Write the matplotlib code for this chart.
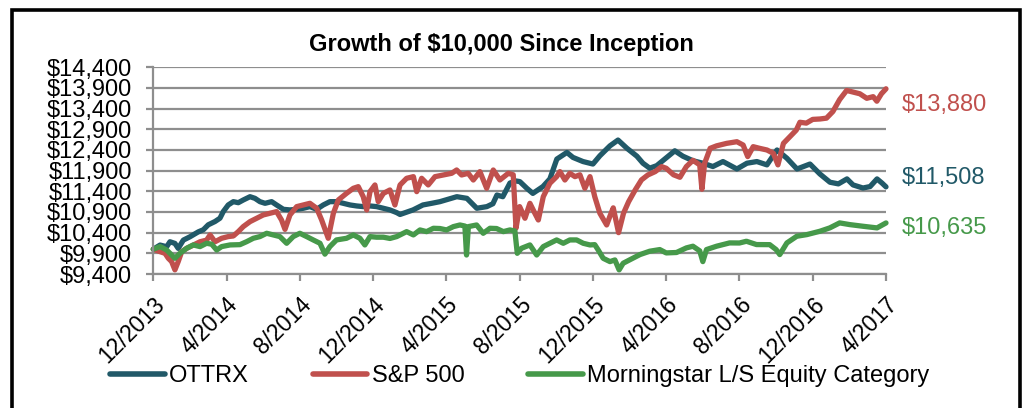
import matplotlib
matplotlib.use("Agg")
import matplotlib.pyplot as plt
from matplotlib.lines import Line2D
from matplotlib.patches import Rectangle
import matplotlib.transforms as mtransforms

plt.rcParams['font.family'] = ['Liberation Sans', 'DejaVu Sans']

# ---- data (x = months since 12/2013) ----
ottrx_m = [0, 0.37, 0.73, 0.91, 1.18, 1.36, 1.64, 2.0, 2.46, 2.73, 3.0, 3.37, 3.64, 3.82, 4.09, 4.37,
           4.64, 4.91, 5.28, 5.55, 5.82, 6.1, 6.46, 6.73, 7.1, 7.46, 7.83, 8.19, 8.55, 8.92, 9.28, 9.64,
           10.0, 10.37, 10.74, 11.1, 11.46, 11.83, 12.19, 12.56, 12.92, 13.29, 13.47, 14.18, 14.72, 15.2,
           15.65, 16.57, 17.12, 17.66, 18.21, 18.54, 18.76, 19.08, 19.47, 19.8, 20.01, 20.4, 20.72, 21.27,
           21.65, 22.03, 22.58, 22.91, 23.46, 24.0, 24.38, 24.93, 25.37, 25.86, 26.4, 26.73, 27.1, 27.48,
           28.03, 28.47, 28.91, 29.46, 30.0, 30.55, 31.1, 31.86, 32.41, 32.95, 33.5, 34.05, 34.59, 35.14,
           35.85, 36.39, 36.94, 37.4, 37.87, 38.2, 38.74, 39.13, 39.51, 39.78, 40]
ottrx_v = [10000, 10100, 10060, 10180, 10140, 10020, 10220, 10300, 10420, 10470, 10590, 10670, 10750,
           10910, 11070, 11150, 11125, 11190, 11270, 11230, 11150, 11110, 11150, 11070, 10965, 10950,
           10965, 10990, 11030, 10965, 11070, 11150, 11150, 11110, 11070, 11046, 11030, 11046, 11030,
           10990, 10950, 10884, 10840, 10950, 11070, 11110, 11150, 11270, 11230, 10990, 11030, 11100,
           11310, 11270, 11600, 11650, 11635, 11470, 11350, 11515, 11700, 12180, 12340, 12220, 12120,
           12060, 12260, 12500, 12640, 12440, 12250, 12080, 11960, 12020, 12220, 12380, 12250, 12140,
           12080, 12000, 12120, 11940, 12080, 12120, 12040, 12400, 12200, 11940, 12060, 11820, 11620,
           11580, 11700, 11555, 11480, 11515, 11700, 11600, 11508]

sp500_m = [0, 0.37, 0.64, 0.82, 1.0, 1.18, 1.36, 1.55, 1.82, 2.18, 2.55, 2.91, 3.1, 3.37, 3.73, 4.09,
           4.37, 4.64, 4.91, 5.28, 5.64, 6.0, 6.37, 6.73, 7.0, 7.19, 7.46, 7.83, 8.19, 8.55, 8.92, 9.19,
           9.55, 9.83, 10.1, 10.55, 10.92, 11.19, 11.46, 11.65, 11.83, 12.1, 12.28, 12.56, 12.92, 13.19,
           13.47, 13.83, 14.2, 14.38, 14.65, 15.01, 15.38, 15.83, 16.29, 16.56, 16.83, 17.19, 17.47,
           17.83, 18.2, 18.56, 18.92, 19.38, 19.65, 19.8, 20.0, 20.29, 20.56, 20.83, 21.02, 21.29, 21.65,
           22.02, 22.2, 22.47, 22.74, 23.02, 23.29, 23.56, 23.84, 24.1, 24.38, 24.75, 24.93, 25.11, 25.4,
           25.67, 25.95, 26.31, 26.65, 27.0, 27.4, 27.75, 28.0, 28.4, 28.75, 29.1, 29.46, 29.83, 29.95,
           30.1, 30.4, 30.75, 31.3, 31.86, 32.2, 32.45, 32.75, 33.1, 33.5, 33.85, 34.1, 34.4, 34.75,
           35.1, 35.3, 35.65, 36.0, 36.4, 36.75, 37.1, 37.47, 37.85, 38.2, 38.57, 38.95, 39.3, 39.5,
           39.75, 40]
sp500_v = [10000, 9940, 9900, 9780, 9700, 9500, 9700, 9940, 10020, 10100, 10180, 10220, 10345, 10180,
           10264, 10305, 10320, 10425, 10546, 10667, 10748, 10828, 10869, 10909, 10707, 10480, 10828,
           11030, 11070, 11110, 10990, 10707, 10264, 10869, 11190, 11352, 11473, 11513, 11271, 10949,
           11392, 11554, 11150, 11350, 11433, 11070, 11554, 11715, 11755, 11392, 11715, 11554, 11755,
           11795, 11836, 11916, 11795, 11836, 11674, 11876, 11473, 11916, 11674, 11836, 11800, 10506,
           11030, 10748, 11110, 10869, 10707, 11271, 11594, 11755, 11876, 11674, 11836, 11755, 11800,
           11473, 11755, 11271, 10869, 10586, 10800, 11000, 10400, 10870, 11150, 11434, 11676, 11796,
           11877, 11998, 11958, 11800, 11740, 11998, 12150, 12040, 11450, 12080, 12440, 12500, 12560,
           12600, 12520, 12240, 12480, 12440, 12400, 12320, 12040, 12560, 12720, 12880, 13070, 13050,
           13140, 13150, 13170, 13330, 13620, 13840, 13800, 13760, 13650, 13690, 13580, 13760, 13880]

morn_m = [0, 0.37, 0.73, 1.0, 1.18, 1.45, 1.82, 2.18, 2.55, 2.91, 3.19, 3.46, 3.73, 4.19, 4.73, 5.1,
          5.46, 5.82, 6.19, 6.55, 6.91, 7.28, 7.64, 8.0, 8.37, 8.73, 9.1, 9.37, 9.64, 10.0, 10.55, 10.92,
          11.28, 11.55, 11.83, 12.19, 12.56, 12.92, 13.29, 13.83, 14.2, 14.56, 14.92, 15.29, 15.65, 16.01,
          16.38, 16.74, 17.01, 17.1, 17.2, 17.65, 18.01, 18.38, 18.74, 19.11, 19.47, 19.74, 19.87, 20.1,
          20.56, 20.93, 21.29, 21.65, 22.02, 22.38, 22.74, 23.11, 23.47, 23.84, 24.1, 24.29, 24.56, 24.93,
          25.2, 25.43, 25.65, 26.02, 26.57, 27.1, 27.65, 28.0, 28.56, 29.1, 29.46, 29.83, 30.0, 30.2,
          30.75, 31.46, 32.0, 32.38, 32.93, 33.65, 34.0, 34.2, 34.59, 35.13, 35.68, 36.39, 36.93, 37.47,
          38.02, 38.74, 39.51, 40]
morn_v = [10000, 10063, 9980, 9860, 9780, 9900, 10022, 10103, 10063, 10143, 10120, 9980, 10063, 10103,
          10110, 10183, 10264, 10305, 10385, 10345, 10305, 10143, 10305, 10385, 10305, 10224, 10143, 9880,
          10063, 10224, 10264, 10345, 10264, 10103, 10305, 10290, 10290, 10260, 10305, 10425, 10345,
          10466, 10425, 10506, 10500, 10466, 10546, 10586, 10560, 9860, 10546, 10586, 10385, 10506,
          10500, 10425, 10466, 10440, 9900, 10022, 10103, 9860, 10063, 10143, 10224, 10143, 10224, 10224,
          10143, 10103, 10110, 9980, 9780, 9700, 9740, 9500, 9660, 9745, 9870, 9951, 9991, 9910, 9920,
          10031, 10072, 9960, 9700, 9991, 10072, 10152, 10150, 10192, 10112, 10110, 9991, 9870, 10152,
          10313, 10353, 10434, 10515, 10636, 10595, 10555, 10515, 10635]

series_names = ['OTTRX', 'S&P 500', 'Morningstar L/S Equity Category']
end_labels = ['$11,508', '$13,880', '$10,635']
x_ticks = [0, 4, 8, 12, 16, 20, 24, 28, 32, 36, 40]
x_labels = ['12/2013', '4/2014', '8/2014', '12/2014', '4/2015', '8/2015',
            '12/2015', '4/2016', '8/2016', '12/2016', '4/2017']
y_ticks = [9400, 9900, 10400, 10900, 11400, 11900, 12400, 12900, 13400, 13900, 14400]
title = 'Growth of $10,000 Since Inception'

# ---- styling ----
C_TEAL = '#215968'
C_RED = '#C0504D'
C_GREEN = '#46994A'
GRID = '#8e8e8e'
W, H = 1022, 408

fig = plt.figure(figsize=(W / 100, H / 100), dpi=100)
fig.patch.set_facecolor('white')
ax = fig.add_axes([153.3 / W, 1 - 274 / H, (886 - 153.3) / W, (274 - 67.3) / H])

ax.set_xlim(0, 40)
ax.set_ylim(9400, 14400)
ax.set_yticks(y_ticks)
ax.set_yticklabels(['${:,}'.format(v) for v in y_ticks], fontsize=17)
ax.set_xticks(x_ticks)
ax.set_xticklabels(x_labels, fontsize=16.5, rotation=45, ha='right', va='top',
                   rotation_mode='anchor')
offset = mtransforms.ScaledTranslation(3 / 100, 0, fig.dpi_scale_trans)
for lbl in ax.get_xticklabels():
    lbl.set_transform(lbl.get_transform() + offset)

ax.yaxis.grid(True, color=GRID, lw=1.6)
ax.set_axisbelow(True)
for s in ['top', 'right']:
    ax.spines[s].set_visible(False)
for s in ['left', 'bottom']:
    ax.spines[s].set_color(GRID)
    ax.spines[s].set_linewidth(1.6)
ax.tick_params(axis='both', colors=GRID, length=5, width=1.6, labelcolor='black')
ax.tick_params(axis='y', pad=10.5)
ax.tick_params(axis='x', pad=8.5)

kw = dict(lw=3.8, solid_joinstyle='round', solid_capstyle='round', clip_on=False)
ax.plot(ottrx_m, ottrx_v, color=C_TEAL, **kw)
ax.plot(sp500_m, sp500_v, color=C_RED, **kw)
ax.plot(morn_m, morn_v, color=C_GREEN, **kw)

fig.text(501 / W, 1 - 45 / H, title, fontsize=17, fontweight='bold', ha='center', va='center')

fig.text(902 / W, 1 - 178 / H, end_labels[0], color=C_TEAL, fontsize=17, ha='left', va='center')
fig.text(902 / W, 1 - 105 / H, end_labels[1], color=C_RED, fontsize=17, ha='left', va='center')
fig.text(902 / W, 1 - 228 / H, end_labels[2], color=C_GREEN, fontsize=17, ha='left', va='center')

handles = [Line2D([], [], color=c, lw=4, solid_capstyle='round') for c in (C_TEAL, C_RED, C_GREEN)]
fig.legend(handles, series_names, loc='center', bbox_to_anchor=(520 / W, 1 - 376 / H), ncol=3,
           frameon=False, fontsize=17, handlelength=2.3, handletextpad=0.2, columnspacing=2.7,
           borderaxespad=0, borderpad=0)

fig.patches.append(Rectangle((12 / W, -0.1), (1020 - 12) / W, 1.1 - 10 / H, transform=fig.transFigure,
                             fill=False, ec='black', lw=2.6))

fig.savefig('out.png', dpi=100)
